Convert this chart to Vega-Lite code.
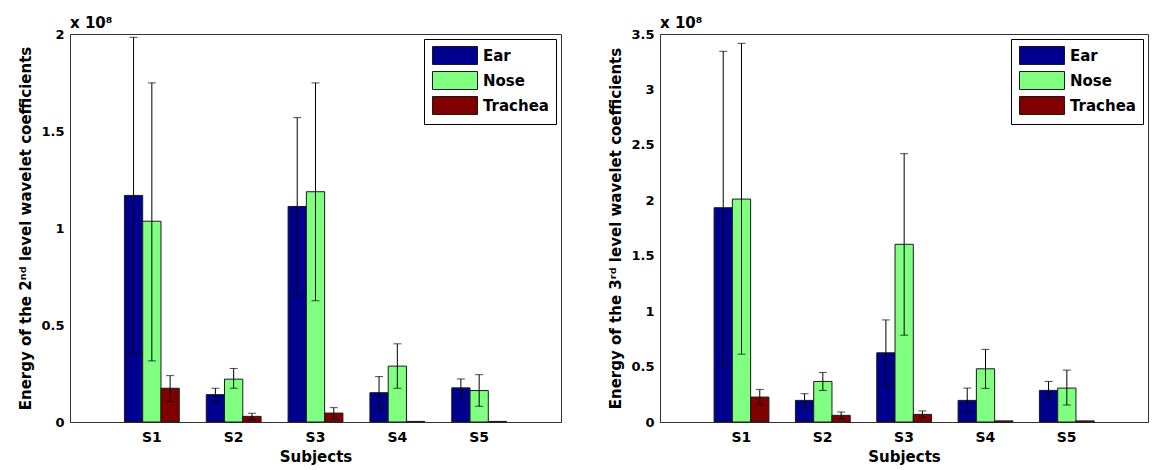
{
  "$schema": "https://vega.github.io/schema/vega-lite/v6.json",
  "padding": {"left": 18, "top": 15, "right": 0, "bottom": 2},
  "background": "white",
  "spacing": 46,
  "config": {
    "font": "DejaVu Sans",
    "view": {"stroke": "#333333", "strokeWidth": 1},
    "axis": {
      "labelFont": "DejaVu Sans", "labelFontSize": 14, "labelFontWeight": "bold", "labelColor": "black",
      "titleFont": "DejaVu Sans", "titleFontSize": 15, "titleFontWeight": "bold", "titleColor": "black",
      "domainColor": "#333333", "tickColor": "#333333", "grid": false, "ticks": false
    },
    "title": {"anchor": "start", "frame": "group", "font": "DejaVu Sans", "fontSize": 15, "fontWeight": "bold", "color": "black", "offset": -3},
    "legend": {
      "orient": "top-right", "offset": 5, "strokeColor": "black", "fillColor": "white", "padding": 7,
      "symbolType": "M-2.5,-1H2.5V1H-2.5Z", "symbolSize": 324, "symbolOffset": 14.5,
      "symbolStrokeColor": "#1a1a1a", "symbolStrokeWidth": 1, "symbolOpacity": 1,
      "labelFont": "DejaVu Sans", "labelFontSize": 15, "labelFontWeight": "bold", "labelColor": "black",
      "labelOffset": 18.5, "rowPadding": 2
    }
  },
  "datasets": {
    "level2": [
      {"subject": "S1", "site": "Ear", "energy": 1.168, "lo": 0.353, "hi": 1.983},
      {"subject": "S1", "site": "Nose", "energy": 1.035, "lo": 0.315, "hi": 1.748},
      {"subject": "S1", "site": "Trachea", "energy": 0.174, "lo": 0.105, "hi": 0.239},
      {"subject": "S2", "site": "Ear", "energy": 0.141, "lo": 0.105, "hi": 0.174},
      {"subject": "S2", "site": "Nose", "energy": 0.221, "lo": 0.174, "hi": 0.276},
      {"subject": "S2", "site": "Trachea", "energy": 0.029, "lo": 0.012, "hi": 0.045},
      {"subject": "S3", "site": "Ear", "energy": 1.111, "lo": 0.652, "hi": 1.569},
      {"subject": "S3", "site": "Nose", "energy": 1.187, "lo": 0.625, "hi": 1.748},
      {"subject": "S3", "site": "Trachea", "energy": 0.046, "lo": 0.017, "hi": 0.074},
      {"subject": "S4", "site": "Ear", "energy": 0.151, "lo": 0.064, "hi": 0.234},
      {"subject": "S4", "site": "Nose", "energy": 0.288, "lo": 0.174, "hi": 0.403},
      {"subject": "S4", "site": "Trachea", "energy": 0.003, "lo": null, "hi": null},
      {"subject": "S5", "site": "Ear", "energy": 0.176, "lo": 0.122, "hi": 0.222},
      {"subject": "S5", "site": "Nose", "energy": 0.162, "lo": 0.081, "hi": 0.244},
      {"subject": "S5", "site": "Trachea", "energy": 0.003, "lo": null, "hi": null}
    ],
    "level3": [
      {"subject": "S1", "site": "Ear", "energy": 1.933, "lo": 0.51, "hi": 3.344},
      {"subject": "S1", "site": "Nose", "energy": 2.011, "lo": 0.612, "hi": 3.416},
      {"subject": "S1", "site": "Trachea", "energy": 0.225, "lo": 0.156, "hi": 0.294},
      {"subject": "S2", "site": "Ear", "energy": 0.195, "lo": 0.135, "hi": 0.255},
      {"subject": "S2", "site": "Nose", "energy": 0.366, "lo": 0.285, "hi": 0.447},
      {"subject": "S2", "site": "Trachea", "energy": 0.06, "lo": 0.03, "hi": 0.09},
      {"subject": "S3", "site": "Ear", "energy": 0.624, "lo": 0.327, "hi": 0.921},
      {"subject": "S3", "site": "Nose", "energy": 1.603, "lo": 0.783, "hi": 2.42},
      {"subject": "S3", "site": "Trachea", "energy": 0.069, "lo": 0.04, "hi": 0.1},
      {"subject": "S4", "site": "Ear", "energy": 0.195, "lo": 0.083, "hi": 0.306},
      {"subject": "S4", "site": "Nose", "energy": 0.48, "lo": 0.303, "hi": 0.655},
      {"subject": "S4", "site": "Trachea", "energy": 0.01, "lo": null, "hi": null},
      {"subject": "S5", "site": "Ear", "energy": 0.285, "lo": 0.204, "hi": 0.366},
      {"subject": "S5", "site": "Nose", "energy": 0.306, "lo": 0.153, "hi": 0.468},
      {"subject": "S5", "site": "Trachea", "energy": 0.01, "lo": null, "hi": null}
    ]
  },
  "resolve": {"legend": {"color": "independent"}},
  "hconcat": [
    {
      "width": 491, "height": 388,
      "title": "x 10⁸",
      "data": {"name": "level2"},
      "encoding": {
        "x": {"field": "subject", "type": "nominal", "scale": {"paddingInner": 0.33, "paddingOuter": 0.665},
              "axis": {"title": "Subjects", "labelAngle": 0, "labelPadding": 8, "titlePadding": 5}},
        "xOffset": {"field": "site", "type": "nominal", "sort": ["Ear", "Nose", "Trachea"], "scale": {"paddingInner": 0, "paddingOuter": 0}}
      },
      "layer": [
        {
          "mark": {"type": "bar", "stroke": "#1a1a1a", "strokeWidth": 1, "opacity": 1},
          "encoding": {
            "y": {"field": "energy", "type": "quantitative", "scale": {"domain": [0, 2], "nice": false, "zero": true},
                  "axis": {"title": "Energy of the 2ⁿᵈ level wavelet coefficients", "values": [0, 0.5, 1, 1.5, 2], "format": "~g", "labelFontSize": 13, "labelFlush": false, "labelOverlap": false, "labelPadding": 6, "titlePadding": 7}},
            "color": {"field": "site", "type": "nominal", "sort": ["Ear", "Nose", "Trachea"],
                      "scale": {"domain": ["Ear", "Nose", "Trachea"], "range": ["#00008F", "#80FF80", "#800000"]},
                      "legend": {"title": null}}
          }
        },
        {
          "mark": {"type": "rule", "color": "black", "strokeWidth": 1},
          "encoding": {"y": {"field": "lo", "type": "quantitative"}, "y2": {"field": "hi"}}
        },
        {
          "mark": {"type": "tick", "color": "black", "orient": "horizontal", "size": 8, "thickness": 1},
          "encoding": {"y": {"field": "lo", "type": "quantitative"}}
        },
        {
          "mark": {"type": "tick", "color": "black", "orient": "horizontal", "size": 8, "thickness": 1},
          "encoding": {"y": {"field": "hi", "type": "quantitative"}}
        }
      ]
    },
    {
      "width": 488, "height": 388,
      "title": "x 10⁸",
      "data": {"name": "level3"},
      "encoding": {
        "x": {"field": "subject", "type": "nominal", "scale": {"paddingInner": 0.33, "paddingOuter": 0.665},
              "axis": {"title": "Subjects", "labelAngle": 0, "labelPadding": 8, "titlePadding": 5}},
        "xOffset": {"field": "site", "type": "nominal", "sort": ["Ear", "Nose", "Trachea"], "scale": {"paddingInner": 0, "paddingOuter": 0}}
      },
      "layer": [
        {
          "mark": {"type": "bar", "stroke": "#1a1a1a", "strokeWidth": 1, "opacity": 1},
          "encoding": {
            "y": {"field": "energy", "type": "quantitative", "scale": {"domain": [0, 3.5], "nice": false, "zero": true},
                  "axis": {"title": "Energy of the 3ʳᵈ level wavelet coefficients", "values": [0, 0.5, 1, 1.5, 2, 2.5, 3, 3.5], "format": "~g", "labelFontSize": 13, "labelFlush": false, "labelOverlap": false, "labelPadding": 6, "titlePadding": 7}},
            "color": {"field": "site", "type": "nominal", "sort": ["Ear", "Nose", "Trachea"],
                      "scale": {"domain": ["Ear", "Nose", "Trachea"], "range": ["#00008F", "#80FF80", "#800000"]},
                      "legend": {"title": null}}
          }
        },
        {
          "mark": {"type": "rule", "color": "black", "strokeWidth": 1},
          "encoding": {"y": {"field": "lo", "type": "quantitative"}, "y2": {"field": "hi"}}
        },
        {
          "mark": {"type": "tick", "color": "black", "orient": "horizontal", "size": 8, "thickness": 1},
          "encoding": {"y": {"field": "lo", "type": "quantitative"}}
        },
        {
          "mark": {"type": "tick", "color": "black", "orient": "horizontal", "size": 8, "thickness": 1},
          "encoding": {"y": {"field": "hi", "type": "quantitative"}}
        }
      ]
    }
  ]
}
